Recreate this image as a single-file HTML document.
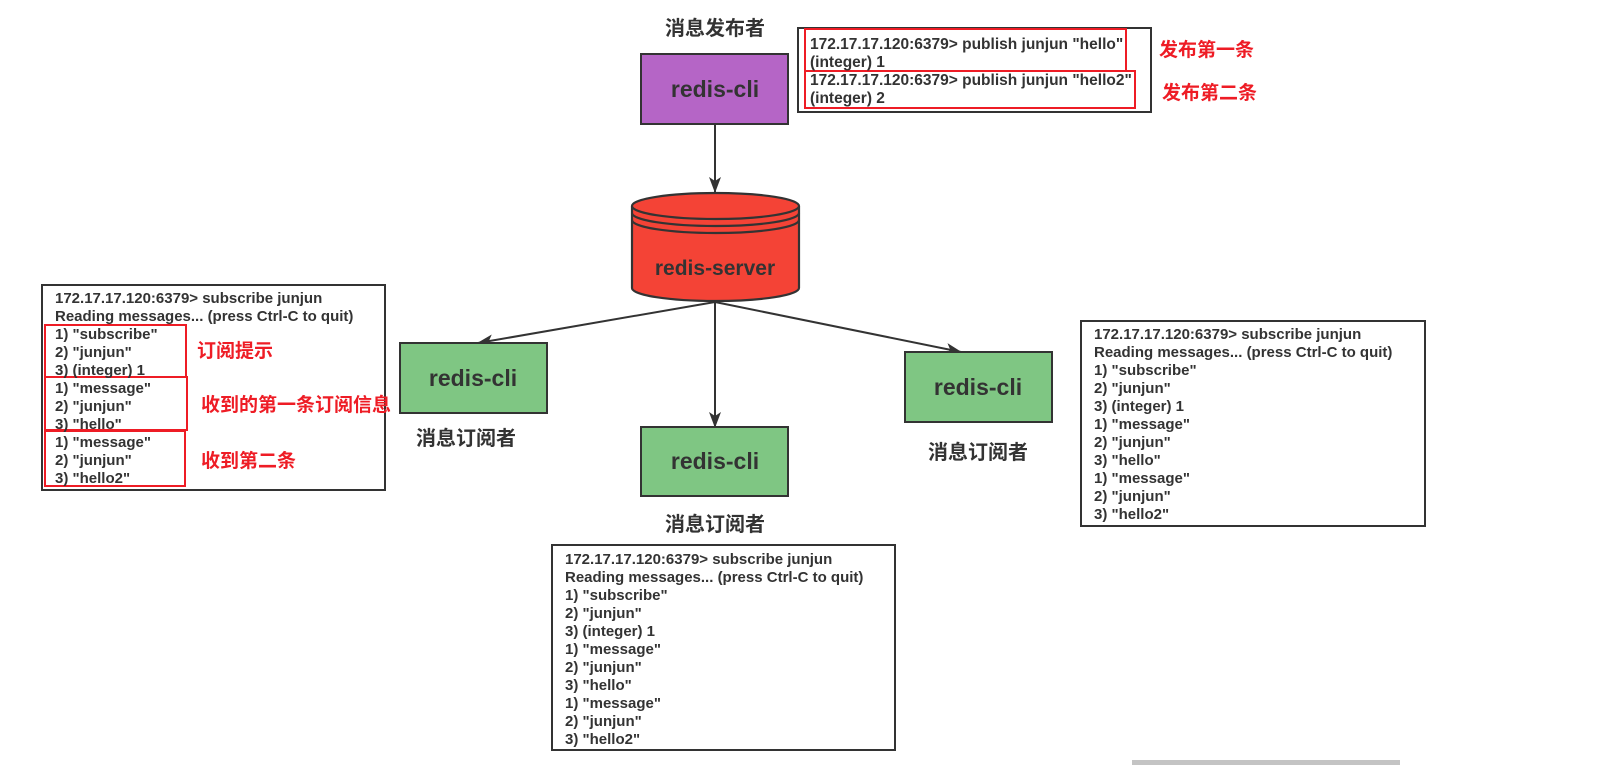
<!DOCTYPE html>
<html><head><meta charset="utf-8"><style>
html,body{margin:0;padding:0;background:#fff;}
svg{display:block;}
.t{font-family:"Liberation Sans","Noto Sans CJK SC",sans-serif;font-weight:bold;font-size:15px;fill:#333;}
.tp{font-family:"Liberation Sans","Noto Sans CJK SC",sans-serif;font-weight:bold;font-size:15.5px;fill:#333;}
.cn{font-family:"Liberation Sans","Noto Sans CJK SC",sans-serif;font-weight:bold;font-size:20px;fill:#333;}
.rd{font-family:"Liberation Sans","Noto Sans CJK SC",sans-serif;font-weight:bold;font-size:19px;fill:#ee1c25;}
.nb{font-family:"Liberation Sans","Noto Sans CJK SC",sans-serif;font-weight:bold;font-size:23px;fill:#333;}
</style></head><body>
<svg width="1601" height="765" viewBox="0 0 1601 765" xmlns="http://www.w3.org/2000/svg">
<defs><marker id="a" markerWidth="16" markerHeight="12" refX="15" refY="6" orient="auto" markerUnits="userSpaceOnUse"><path d="M0,0 L16,6 L0,12 L4,6 z" fill="#333"/></marker></defs>

<text class="cn" x="715" y="35" text-anchor="middle">消息发布者</text>
<rect x="641" y="54" width="147" height="70" fill="#b565c6" stroke="#333" stroke-width="2"/>
<text class="nb" x="715" y="97" text-anchor="middle">redis-cli</text>
<line x1="715" y1="124" x2="715" y2="192" stroke="#333" stroke-width="2" marker-end="url(#a)"/>

<path d="M632,206 L632,288 A83.5,13 0 0 0 799,288 L799,206" fill="#f44336" stroke="#333" stroke-width="2.2"/>
<ellipse cx="715.5" cy="206" rx="83.5" ry="13" fill="#f44336" stroke="#333" stroke-width="2.2"/>
<path d="M632,213 A83.5,13 0 0 0 799,213" fill="none" stroke="#333" stroke-width="2.2"/>
<path d="M632,220 A83.5,13 0 0 0 799,220" fill="none" stroke="#333" stroke-width="2.2"/>
<text class="nb" x="715" y="275" text-anchor="middle" style="font-size:21px">redis-server</text>

<line x1="715" y1="302" x2="478" y2="343" stroke="#333" stroke-width="2" marker-end="url(#a)"/>
<line x1="715" y1="302" x2="715" y2="427" stroke="#333" stroke-width="2" marker-end="url(#a)"/>
<line x1="715" y1="302" x2="961" y2="352" stroke="#333" stroke-width="2" marker-end="url(#a)"/>

<rect x="798" y="28" width="353" height="84" fill="#fff" stroke="#333" stroke-width="2"/>
<rect x="805" y="29" width="321" height="42" fill="none" stroke="#ee1c25" stroke-width="2"/>
<rect x="805" y="71" width="330" height="37" fill="none" stroke="#ee1c25" stroke-width="2"/>
<g class="tp">
<text x="810" y="49">172.17.17.120:6379&gt; publish junjun "hello"</text>
<text x="810" y="67">(integer) 1</text>
<text x="810" y="85">172.17.17.120:6379&gt; publish junjun "hello2"</text>
<text x="810" y="103">(integer) 2</text>
</g>
<text class="rd" x="1159" y="56">发布第一条</text>
<text class="rd" x="1162" y="99">发布第二条</text>

<rect x="400" y="343" width="147" height="70" fill="#7fc683" stroke="#333" stroke-width="2"/>
<text class="nb" x="473" y="386" text-anchor="middle">redis-cli</text>
<text class="cn" x="466" y="445" text-anchor="middle">消息订阅者</text>
<rect x="641" y="427" width="147" height="69" fill="#7fc683" stroke="#333" stroke-width="2"/>
<text class="nb" x="715" y="469" text-anchor="middle">redis-cli</text>
<text class="cn" x="715" y="531" text-anchor="middle">消息订阅者</text>
<rect x="905" y="352" width="147" height="70" fill="#7fc683" stroke="#333" stroke-width="2"/>
<text class="nb" x="978" y="395" text-anchor="middle">redis-cli</text>
<text class="cn" x="978" y="459" text-anchor="middle">消息订阅者</text>

<rect x="42" y="285" width="343" height="205" fill="#fff" stroke="#333" stroke-width="2"/>
<rect x="45" y="325" width="141" height="52" fill="none" stroke="#ee1c25" stroke-width="2"/>
<rect x="45" y="377" width="142" height="53" fill="none" stroke="#ee1c25" stroke-width="2"/>
<rect x="45" y="431" width="140" height="55" fill="none" stroke="#ee1c25" stroke-width="2"/>
<g class="t">
<text x="55" y="303">172.17.17.120:6379&gt; subscribe junjun</text>
<text x="55" y="321">Reading messages... (press Ctrl-C to quit)</text>
<text x="55" y="339">1) "subscribe"</text>
<text x="55" y="357">2) "junjun"</text>
<text x="55" y="375">3) (integer) 1</text>
<text x="55" y="393">1) "message"</text>
<text x="55" y="411">2) "junjun"</text>
<text x="55" y="429">3) "hello"</text>
<text x="55" y="447">1) "message"</text>
<text x="55" y="465">2) "junjun"</text>
<text x="55" y="483">3) "hello2"</text>
</g>
<text class="rd" x="197" y="357">订阅提示</text>
<text class="rd" x="201" y="411">收到的第一条订阅信息</text>
<text class="rd" x="201" y="467">收到第二条</text>

<rect x="1081" y="321" width="344" height="205" fill="#fff" stroke="#333" stroke-width="2"/>
<g class="t">
<text x="1094" y="339">172.17.17.120:6379&gt; subscribe junjun</text>
<text x="1094" y="357">Reading messages... (press Ctrl-C to quit)</text>
<text x="1094" y="375">1) "subscribe"</text>
<text x="1094" y="393">2) "junjun"</text>
<text x="1094" y="411">3) (integer) 1</text>
<text x="1094" y="429">1) "message"</text>
<text x="1094" y="447">2) "junjun"</text>
<text x="1094" y="465">3) "hello"</text>
<text x="1094" y="483">1) "message"</text>
<text x="1094" y="501">2) "junjun"</text>
<text x="1094" y="519">3) "hello2"</text>
</g>

<rect x="552" y="545" width="343" height="205" fill="#fff" stroke="#333" stroke-width="2"/>
<g class="t">
<text x="565" y="564">172.17.17.120:6379&gt; subscribe junjun</text>
<text x="565" y="582">Reading messages... (press Ctrl-C to quit)</text>
<text x="565" y="600">1) "subscribe"</text>
<text x="565" y="618">2) "junjun"</text>
<text x="565" y="636">3) (integer) 1</text>
<text x="565" y="654">1) "message"</text>
<text x="565" y="672">2) "junjun"</text>
<text x="565" y="690">3) "hello"</text>
<text x="565" y="708">1) "message"</text>
<text x="565" y="726">2) "junjun"</text>
<text x="565" y="744">3) "hello2"</text>
</g>

<rect x="1132" y="760" width="268" height="5" fill="#c4c4c4"/>
</svg>
</body></html>
